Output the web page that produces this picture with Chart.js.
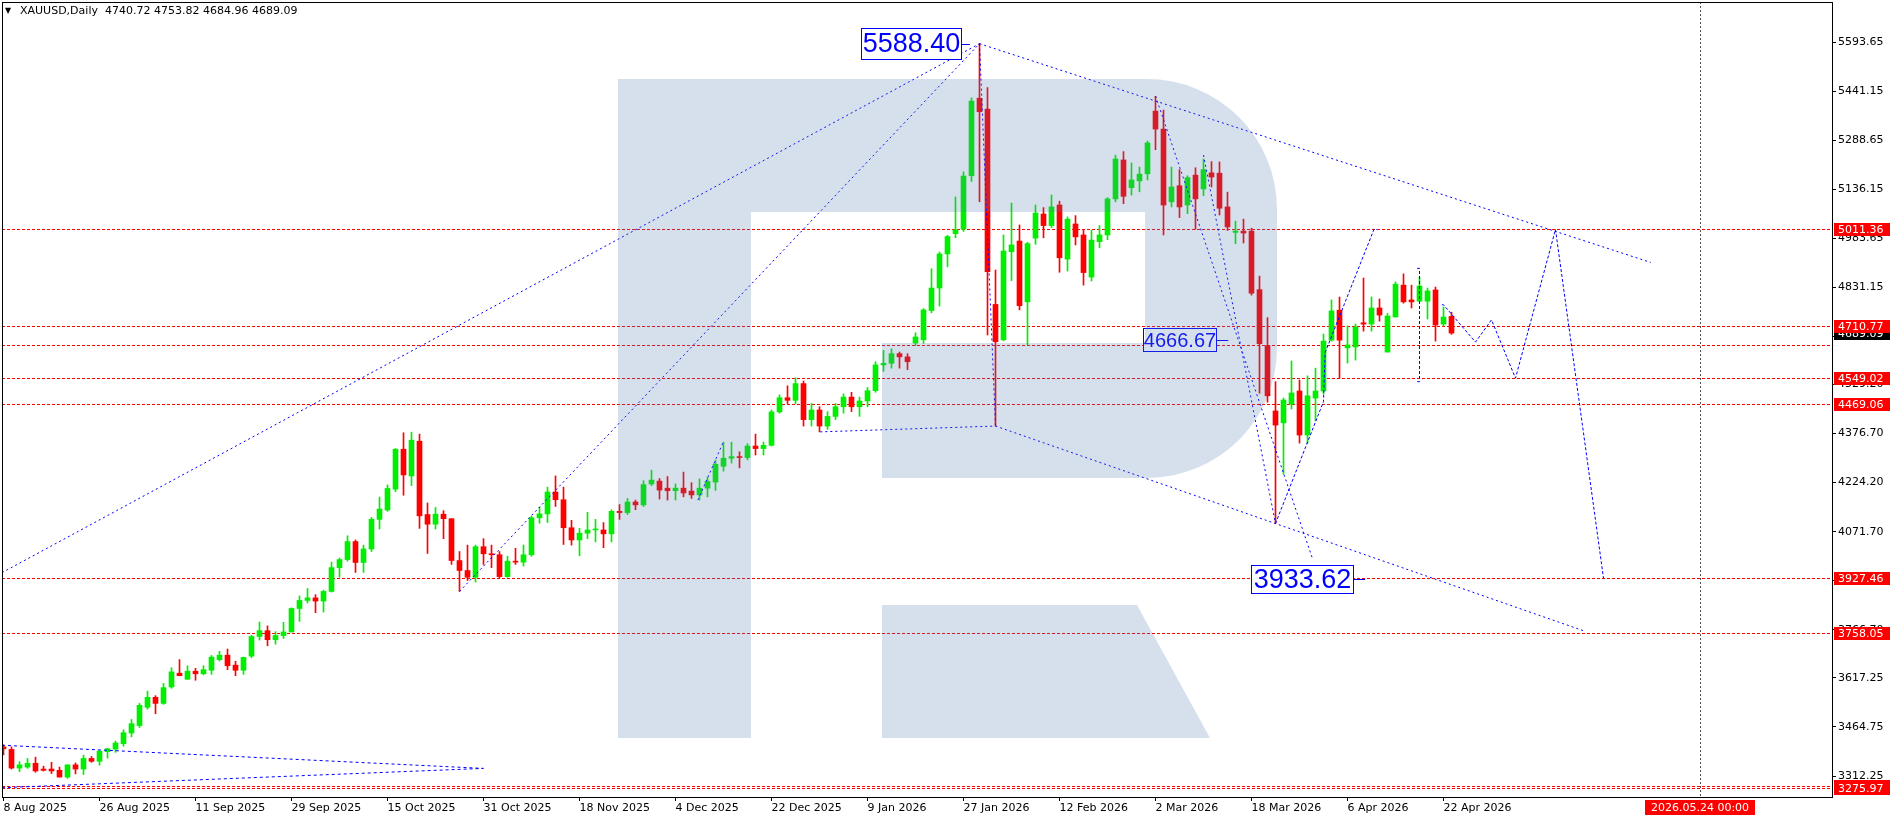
<!DOCTYPE html>
<html><head><meta charset="utf-8">
<script src="https://cdn.jsdelivr.net/npm/chart.js@4.4.1/dist/chart.umd.min.js"></script>
<style>html,body{margin:0;padding:0;background:#fff;overflow:hidden}canvas{display:block}</style>
</head><body>
<canvas id="c" width="1896" height="820"></canvas>
<script>
// ---- DATA (daily candles, index 0 = 8 Aug 2025) ----
const opens = [3403,3395,3337,3340,3352,3334,3334,3330,3309,3347,3334,3367,3358,3388,3396,3413,3446,3469,3526,3557,3538,3589,3632,3613,3638,3630,3641,3674,3688,3657,3641,
3685,3746,3764,3736,3749,3760,3833,3858,3866,3856,3886,3960,3985,4041,3976,4018,4110,4139,4204,4328,4245,4353,
4125,4095,4126,4112,3982,3951,3930,4025,4003,4000,3932,3980,3977,4000,4115,4127,4195,4171,4084,4046,4067,4077,4077,4065,4135,4131,4164,4155,
4220,4229,4207,4199,4207,4198,4186,4207,4226,4275,
4300,4305,4302,4338,4330,4340,4444,4488,4480,4532,4420,4450,4400,4430,4460,4490,4460,4478,4510,4590,4595,4625,4615,
4658,4668,4759,4829,4935,4998,5012,5178,5419,5385,4778,4668,4942,4975,4786,4984,5059,5023,5087,4919,5028,4994,4863,4973,4994,5106,5227,5141,5162,5184,
5379,5323,5097,5147,5087,5180,5137,5187,5186,5081,5002,5006,5006,4824,4650,4447,4410,4468,4509,4372,4487,4509,4667,4760,4643,4646,4721,4717,4767,4630,4739,4838,4792,4788,4788,4823,4717,4740.72];
const highs = [3409,3403,3357,3367,3371,3343,3355,3340,3347,3353,3377,3373,3390,3399,3421,3456,3488,3538,3576,3562,3600,3649,3674,3655,3647,3655,3687,3700,3707,3669,3682,
3750,3791,3779,3761,3790,3835,3872,3895,3876,3890,3977,3990,4059,4046,4030,4116,4179,4217,4330,4379,4381,4375,
4161,4147,4137,4112,4010,4030,4030,4050,4030,4010,3995,4020,4030,4120,4148,4210,4245,4210,4107,4082,4132,4110,4100,4140,4156,4175,4170,4230,
4263,4237,4243,4220,4257,4224,4236,4241,4294,4350,
4350,4320,4345,4375,4350,4450,4497,4525,4550,4540,4470,4460,4445,4470,4500,4505,4490,4520,4600,4635,4640,4630,4625,
4690,4765,4889,4941,4993,5112,5190,5420,5588.4,5452,4885,4994,5093,5025,4971,5087,5079,5118,5099,5050,5054,5009,5009,5023,5110,5242,5253,5218,5205,5286,
5425,5382,5205,5197,5178,5203,5230,5222,5221,5127,5037,5043,5015,4866,4737,4538,4487,4602,4543,4556,4580,4686,4792,4801,4711,4717,4860,4801,4795,4750,4848,4873,4838,4863,4829,4832,4770,4753.82];
const lows = [3378,3334,3326,3336,3324,3328,3320,3309,3305,3319,3317,3355,3346,3368,3386,3405,3434,3463,3520,3506,3535,3585,3624,3613,3610,3627,3628,3670,3643,3624,3628,
3680,3735,3717,3722,3740,3760,3793,3850,3820,3822,3884,3930,3980,3945,3945,4010,4080,4135,4196,4185,4215,4082,
4004,4080,4050,3970,3886,3920,3915,3970,3960,3928,3930,3970,3965,3995,4098,4100,4150,4032,4030,3997,4050,4040,4022,4040,4110,4125,4140,4150,
4215,4173,4170,4170,4180,4175,4170,4180,4200,4260,
4285,4270,4295,4310,4310,4338,4440,4470,4470,4400,4400,4382,4390,4420,4440,4445,4430,4460,4505,4570,4580,4580,4575,
4650,4657,4752,4773,4895,4985,5005,5160,5097,4683,4400,4665,4852,4761,4652,4965,4985,5017,4878,4882,4963,4838,4851,4954,4979,5097,5091,5118,5128,5165,
5259,4994,5081,5048,5060,5012,5116,5143,5056,5008,4967,4969,4807,4502,4474,4097,4250,4453,4347,4346,4417,4500,4664,4549,4596,4605,4695,4695,4726,4630,4739,4782,4767,4788,4733,4664,4711,4684.96];
const closes = [3397,3337,3347,3352,3328,3330,3328,3309,3347,3334,3367,3358,3390,3397,3415,3447,3475,3532,3557,3538,3587,3636,3624,3638,3630,3643,3682,3688,3655,3641,3681,
3746,3764,3736,3749,3760,3833,3858,3866,3856,3886,3960,3985,4041,3976,4018,4110,4142,4206,4328,4248,4356,4121,
4095,4126,4112,3982,3951,3930,4025,4003,4000,3932,3980,3977,4000,4115,4127,4195,4171,4084,4046,4067,4077,4078,4065,4135,4131,4164,4155,4218,
4232,4201,4199,4207,4192,4186,4207,4228,4281,4300,
4305,4302,4338,4330,4340,4444,4488,4480,4532,4420,4450,4400,4430,4460,4490,4460,4478,4510,4590,4595,4625,4615,4600,
4677,4761,4829,4935,4989,5010,5177,5410,5377,4880,4662,4944,4963,4774,4967,5062,5023,5081,4923,5043,4988,4877,4978,4994,5106,5230,5114,5165,5183,5280,
5323,5087,5143,5081,5172,5106,5197,5174,5077,5019,5006,5000,4813,4656,4494,4403,4481,4503,4372,4494,4509,4664,4758,4667,4652,4708,4717,4767,4745,4742,4841,4786,4786,4835,4820,4714,4739,4689.09];

const xTickIdx = [0,12,24,36,48,60,72,84,96,108,120,132,144,156,168,180];
const xTickLabels = ['8 Aug 2025','26 Aug 2025','11 Sep 2025','29 Sep 2025','15 Oct 2025','31 Oct 2025','18 Nov 2025','4 Dec 2025','22 Dec 2025','9 Jan 2026','27 Jan 2026','12 Feb 2026','2 Mar 2026','18 Mar 2026','6 Apr 2026','22 Apr 2026'];
const yTickValues = [5593.65,5441.15,5288.65,5136.15,4983.65,4831.15,4678.65,4529.20,4376.70,4224.20,4071.70,3919.20,3766.70,3617.25,3464.75,3312.25];
const yTickLabels = ['5593.65','5441.15','5288.65','5136.15','4983.65','4831.15','4678.65','4529.20','4376.70','4224.20','4071.70','3919.20','3766.70','3617.25','3464.75','3312.25'];

const levelValues = [5011.36,4710.77,4651,4549.02,4469.06,3927.46,3758.05,3282.5,3275.97];
const levelLabelValues = [5011.36,4710.77,4549.02,4469.06,3927.46,3758.05,3275.97];
const lastPrice = 4689.09;
const futureMarkIdx = 212;
const futureMarkLabel = '2026.05.24 00:00';

// blue dashed trend / forecast lines as [index, price] points
const lineLeftToPeak = [[-0.19,3944.4],[122,5588.4]];
const lineOctLowToPeak = [[57,3886],[122,5588.4]];
const lineDecShort = [[86.8,4170],[90,4352]];
const lineDecToFeb = [[102.1,4382],[124,4400]];
const linePeakToFeb = [[122,5588.4],[124,4400]];
const lineLowerChannel = [[124,4400],[159,4097],[197.6,3763]];
const lineUpperChannel = [[122,5588.4],[205.9,4908.6]];
const lineMarA = [[144,5425.8],[163.6,3990]];
const lineMarB = [[150,5242.4],[159,4097]];
const lineRebound = [[159,4097],[165,4476],[165.2,4628],[171.3,5011],[171.7,5011]];
const lineVertApr = [[176.7,4890],[177,4890],[177,4538],[176.7,4538]];
const lineForecast = [[179.8,4777],[180,4777],[184,4661],[186,4730],[189,4549],[194,5011],[200,3927]];
const lineAugUpper = [[-0.19,3408],[60,3336]];
const lineAugLower = [[-0.19,3276],[60,3336]];

// price labels: [text, right-edge index, price, width, height, fontPx, leader-to index]
const boxLabels = [
  ['5588.40',119.8,5588.4,101,32,27,120.8],
  ['4666.67',151.7,4667,74,24,20,153.1],
  ['3933.62',168.8,3924,103,29,27,170.2]
];

// ---- RENDER ----
const BULL = '#00ee00', BEAR = '#ff0000';
const idx = opens.map((_, i) => i);
const wickData = idx.map(i => ({x: i, y: [lows[i], highs[i]]}));
const bodyData = idx.map(i => ({x: i, y: [opens[i], closes[i]]}));
const colorOf = c => closes[c.dataIndex] >= opens[c.dataIndex] ? BULL : BEAR;
const pts = a => a.map(p => ({x: p[0], y: p[1]}));
function lineDs(a, dash) {
  return {type: 'line', data: pts(a), borderColor: '#0000ff', borderWidth: 1, borderDash: dash,
    pointRadius: 0, fill: false, tension: 0, order: 1};
}
const FONT = '"DejaVu Sans"';

const plugins = [{
  id: 'bgAndLevels',
  beforeDraw(chart) {
    const c = chart.ctx; c.save(); c.fillStyle = '#fff'; c.fillRect(0, 0, chart.width, chart.height); c.restore();
  },
  beforeDatasetsDraw(chart) {
    const c = chart.ctx, a = chart.chartArea, y = chart.scales.y, x = chart.scales.x;
    c.save();
    c.beginPath(); c.rect(a.left, a.top, a.right - a.left, a.bottom - a.top); c.clip();
    c.lineWidth = 1; c.strokeStyle = '#ff0000'; c.setLineDash([3, 2]);
    levelValues.forEach(v => {
      const py = Math.round(y.getPixelForValue(v)) + 0.5;
      c.beginPath(); c.moveTo(a.left, py); c.lineTo(a.right, py); c.stroke();
    });
    const vx = Math.round(x.getPixelForValue(futureMarkIdx)) + 0.5;
    c.strokeStyle = '#505050'; c.setLineDash([2, 2]);
    c.beginPath(); c.moveTo(vx, a.top); c.lineTo(vx, a.bottom); c.stroke();
    c.restore();
  },
  afterDatasetsDraw(chart) {
    const c = chart.ctx, a = chart.chartArea, y = chart.scales.y, x = chart.scales.x;
    c.save();
    c.beginPath(); c.rect(a.left, a.top, a.right - a.left, a.bottom - a.top); c.clip();
    boxLabels.forEach(b => {
      const xr = Math.round(x.getPixelForValue(b[1])), yc = y.getPixelForValue(b[2]);
      const w = b[3], h = b[4];
      const top = Math.round(yc - h / 2);
      c.setLineDash([]);
      c.fillStyle = '#fff'; c.fillRect(xr - w, top, w, h);
      c.strokeStyle = '#0000ff'; c.lineWidth = 1;
      c.strokeRect(xr - w + 0.5, top + 0.5, w - 1, h - 1);
      const lx = x.getPixelForValue(b[6]);
      c.beginPath(); c.moveTo(xr, Math.round(yc) + 0.5); c.lineTo(lx, Math.round(yc) + 0.5); c.stroke();
      c.fillStyle = '#0000ff'; c.font = b[5] + 'px "Liberation Sans"';
      c.textAlign = 'center'; c.textBaseline = 'middle';
      c.fillText(b[0], xr - w / 2, top + h / 2 + 1);
    });
    // translucent "R" watermark
    c.fillStyle = 'rgba(78,121,173,0.23)';
    c.beginPath();
    c.moveTo(618, 79); c.lineTo(1147, 79);
    c.arc(1147, 209, 130, -Math.PI / 2, 0);
    c.lineTo(1277, 348);
    c.arc(1147, 348, 130, 0, Math.PI / 2);
    c.lineTo(882, 478); c.lineTo(882, 343); c.lineTo(1145, 343); c.lineTo(1145, 212);
    c.lineTo(751, 212); c.lineTo(751, 738); c.lineTo(618, 738); c.closePath();
    c.moveTo(882, 605); c.lineTo(1137, 605); c.lineTo(1210, 738); c.lineTo(882, 738); c.closePath();
    c.fill();
    c.restore();
  },
  afterDraw(chart) {
    const c = chart.ctx, a = chart.chartArea, y = chart.scales.y, x = chart.scales.x;
    c.save();
    c.strokeStyle = '#000'; c.lineWidth = 1; c.setLineDash([]);
    c.strokeRect(a.left + 0.5, a.top + 0.5, a.right - a.left, a.bottom - a.top);
    c.fillStyle = '#000'; c.textBaseline = 'middle'; c.textAlign = 'left';
    c.font = '8px ' + FONT; c.fillText('\u25BC', 5, 11);
    c.font = '11px ' + FONT;
    c.fillText('XAUUSD,Daily  ' + [opens[181], highs[181], lows[181], closes[181]].map(v => v.toFixed(2)).join(' '), 20, 11);
    const lab = (v, bg, txt) => {
      const yc = Math.round(y.getPixelForValue(v));
      let t = yc - 6; if (t + 13 > 797) t = 797 - 13;
      c.fillStyle = bg; c.fillRect(a.right + 2, t, 56, 13);
      c.fillStyle = txt; c.fillText(v.toFixed(2), a.right + 6, t + 7);
    };
    lab(lastPrice, '#000', '#fff');
    lab(3282.5, '#ff0000', '#fff');
    levelLabelValues.forEach(v => lab(v, '#ff0000', '#fff'));
    const vx = Math.round(x.getPixelForValue(futureMarkIdx));
    c.fillStyle = '#ff0000'; c.fillRect(vx - 55, 800, 110, 15);
    c.fillStyle = '#fff'; c.textAlign = 'center'; c.fillText(futureMarkLabel, vx, 808);
    c.restore();
  }
}];

new Chart(document.getElementById('c'), {
  type: 'bar',
  data: {datasets: [
    {data: wickData, backgroundColor: colorOf, barThickness: 1, grouped: false, borderWidth: 0, order: 3},
    {data: bodyData, backgroundColor: colorOf, barThickness: 5, grouped: false, borderWidth: 0, minBarLength: 1, order: 2},
    lineDs(lineLeftToPeak, [2, 3]), lineDs(lineOctLowToPeak, [2, 3]), lineDs(lineDecShort, [2, 3]),
    lineDs(lineDecToFeb, [2, 3]), lineDs(linePeakToFeb, [2, 3]), lineDs(lineLowerChannel, [2, 3]),
    lineDs(lineUpperChannel, [2, 3]), lineDs(lineMarA, [2, 3]), lineDs(lineMarB, [2, 3]),
    lineDs(lineRebound, [3, 2]), lineDs(lineVertApr, [3, 2]), lineDs(lineForecast, [3, 2]),
    lineDs(lineAugUpper, [3, 3]), lineDs(lineAugLower, [3, 3])
  ]},
  options: {
    responsive: false, animation: false, events: [],
    layout: {padding: {left: 2, top: 2, right: 0, bottom: 0}},
    plugins: {legend: {display: false}, tooltip: {enabled: false}},
    scales: {
      x: {
        type: 'linear', position: 'bottom', min: -0.1875, max: 228.5625, offset: false,
        afterBuildTicks: s => { s.ticks = xTickIdx.map(v => ({value: v})); },
        afterFit: s => { s.height = 23; s.paddingLeft = 0; s.paddingRight = 0; },
        grid: {display: true, offset: false, drawOnChartArea: false, drawTicks: true, tickLength: 4, color: '#000'},
        border: {display: true, color: '#000'},
        ticks: {autoSkip: false, maxRotation: 0, minRotation: 0, align: 'start', padding: 1,
          color: '#000', font: {family: 'DejaVu Sans', size: 11},
          callback: (v, i) => xTickLabels[i]}
      },
      y: {
        type: 'linear', position: 'right', min: 3247.11, max: 5717.97,
        afterBuildTicks: s => { s.ticks = yTickValues.map(v => ({value: v})); },
        afterFit: s => { s.width = 64; s.paddingTop = 0; s.paddingBottom = 0; },
        grid: {display: true, drawOnChartArea: false, drawTicks: true, tickLength: 4, color: '#000'},
        border: {display: true, color: '#000'},
        ticks: {autoSkip: false, padding: 2, color: '#000', font: {family: 'DejaVu Sans', size: 11},
          callback: (v, i) => yTickLabels[i]}
      }
    }
  },
  plugins
});
</script>
</body></html>
